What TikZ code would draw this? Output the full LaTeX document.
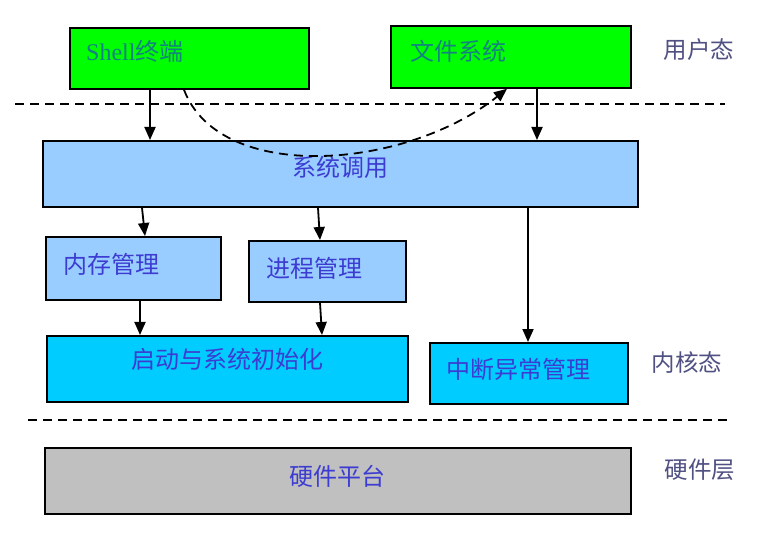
\documentclass[tikz,border=0pt]{standalone}
\usepackage{fontspec}
\setmainfont{Noto Sans CJK SC}
\newfontfamily\latinSerif{Liberation Serif}
\usepackage{tikz}
\usetikzlibrary{arrows.meta,positioning}
\definecolor{termGreen}{RGB}{0,255,0}
\definecolor{sysBlue}{RGB}{153,204,255}
\definecolor{bootCyan}{RGB}{0,204,255}
\definecolor{hwGray}{RGB}{192,192,192}
\definecolor{textBlue}{RGB}{60,60,210}
\definecolor{textTeal}{RGB}{20,130,130}
\definecolor{labelGray}{RGB}{80,80,130}

\begin{document}
\begin{tikzpicture}[x=1pt, y=-1pt,
			box/.style={draw, rectangle, line width=1.8pt, anchor=north west, inner sep=0pt},
			userBox/.style={box, fill=termGreen},
			callBox/.style={box, fill=sysBlue},
			coreBox/.style={box, fill=bootCyan},
			hwBox/.style={box, fill=hwGray},
			title/.style={inner sep=0pt, font=\fontsize{24}{26}\selectfont, text=textBlue},
			userTitle/.style={title, text=textTeal},
			layer/.style={inner sep=0pt, font=\fontsize{23.5}{26}\selectfont, text=labelGray},
			arrowStrong/.style={line width=1.8pt, -{Triangle[length=13pt, width=11pt]}},
			arrowDash/.style={line width=1.8pt, dash pattern=on 9pt off 6pt, -{Triangle[length=13pt, width=11pt]}},
			border/.style={line width=1.8pt, dash pattern=on 9pt off 6pt},
			]
			\useasboundingbox (0,0) rectangle (777,540);
			
			% user space
			\draw node[userBox][minimum width=239pt, minimum height=61pt] (shellBox) at (69,27) {};
			\draw node[userTitle][anchor=west, yshift=7.5pt, right=17pt of shellBox.west] (shellText) {{\latinSerif Shell}终端};
			
			\draw node[userBox][minimum width=240pt, minimum height=62pt] (fsBox) at (390,25) {};
			\draw node[userTitle][anchor=west, yshift=6pt, right=20pt of fsBox.west] (fsText) {文件系统};
			
			\draw node[layer] (userLabel) at (699,50) {用户态};
			
			\coordinate (userLeft) at (15,104);
			\coordinate (userRight) at (725,104);
			\draw [border] (userLeft) -- (userRight);
			
			% kernel space
			\draw node[callBox][minimum width=595pt, minimum height=66pt] (syscallBox) at (42,140) {};
			\draw node[title][yshift=7pt] (syscallText) at (syscallBox.center) {系统调用};
			
			\draw node[callBox][minimum width=175pt, minimum height=63pt] (memBox) at (45,236) {};
			\draw node[title][anchor=west, yshift=4.5pt, right=18pt of memBox.west] (memText) {内存管理};
			
			\draw node[callBox][minimum width=157pt, minimum height=61pt] (procBox) at (248,240) {};
			\draw node[title][anchor=west, yshift=3.5pt, right=18pt of procBox.west] (procText) {进程管理};
			
			\draw node[coreBox][minimum width=361pt, minimum height=66pt] (bootBox) at (46,335) {};
			\draw node[title][yshift=10pt] (bootText) at (bootBox.center) {启动与系统初始化};
			
			\draw node[coreBox][minimum width=198pt, minimum height=61pt] (irqBox) at (429,342) {};
			\draw node[title][xshift=-10pt, yshift=4.5pt] (irqText) at (irqBox.center) {中断异常管理};
			
			\draw node[layer] (kernelLabel) at (687,363) {内核态};
			
			\coordinate (hwLeft) at (28,420);
			\coordinate (hwRight) at (732,420);
			\draw [border] (hwLeft) -- (hwRight);
			
			% hardware
			\draw node[hwBox][minimum width=586pt, minimum height=66pt] (platformBox) at (44,447) {};
			\draw node[title][yshift=5pt] (platformText) at (platformBox.center) {硬件平台};
			
			\draw node[layer] (hwLabel) at (700,470) {硬件层};
			
			% Arrow
			\draw [arrowStrong] ([xshift=81pt]shellBox.south west) -- ([xshift=108pt]syscallBox.north west);
			\draw [arrowStrong] ([xshift=147pt]fsBox.south west) -- ([xshift=495pt]syscallBox.north west);
			\draw [arrowDash] ([xshift=115pt]shellBox.south west) .. controls (220,184) and (405,170) .. ([xshift=117pt]fsBox.south west);
			
			\draw [arrowStrong] ([xshift=100pt]syscallBox.south west) -- ([xshift=100pt]memBox.north west);
			\draw [arrowStrong] ([xshift=276pt]syscallBox.south west) -- ([xshift=72pt]procBox.north west);
			\draw [arrowStrong] ([xshift=486pt]syscallBox.south west) -- ([xshift=99pt]irqBox.north west);
			
			\draw [arrowStrong] ([xshift=95pt]memBox.south west) -- ([xshift=94pt]bootBox.north west);
			\draw [arrowStrong] ([xshift=72pt]procBox.south west) -- ([xshift=276pt]bootBox.north west);
			
		\end{tikzpicture}
\end{document}
